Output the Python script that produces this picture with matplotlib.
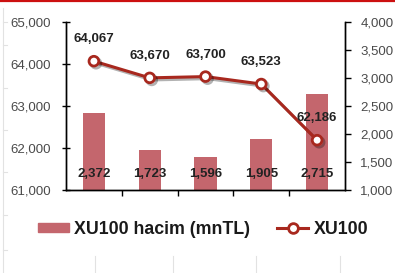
import matplotlib.pyplot as plt
import matplotlib.patheffects as pe
from matplotlib.lines import Line2D
from matplotlib.ticker import FixedLocator, FuncFormatter

plt.rcParams['font.family'] = ['Liberation Sans', 'DejaVu Sans']

dates = ['08-Jun', '09-Jun', '10-Jun', '13-Jun', '14-Jun']
xu100 = [64067, 63670, 63700, 63523, 62186]
volume = [2372, 1723, 1596, 1905, 2715]

left_ticks = [61000, 62000, 63000, 64000, 65000]
right_ticks = [1000, 1500, 2000, 2500, 3000, 3500, 4000]

bar_color = '#c4666d'
line_color = '#a8281e'
tick_color = '#4a4a4a'
label_color = '#222222'

W, H = 395, 273
fig = plt.figure(figsize=(W / 100, H / 100), dpi=100)

# spreadsheet leftovers around the chart
fig.add_artist(Line2D([0, 1], [1 - 0.8 / H, 1 - 0.8 / H], color='#cc1010', lw=1.6))
fig.add_artist(Line2D([3 / W, 3 / W], [0, 1 - 8 / H], color='#e2e2e2', lw=0.8))
for yy in [22, 45, 88, 130, 172, 215, 250]:
    fig.add_artist(Line2D([3 / W, 7 / W], [1 - yy / H, 1 - yy / H], color='#e2e2e2', lw=0.8))
for xx in [95, 173, 256, 340]:
    fig.add_artist(Line2D([xx / W, xx / W], [0, 1 - 256 / H], color='#e2e2e2', lw=0.8))

ax = fig.add_axes([66 / W, 1 - 190 / H, (345 - 66) / W, (190 - 22) / H])
ax2 = ax.twinx()

x = list(range(len(dates)))

# bars on the secondary (right) axis, drawn behind the line
ax2.bar(x, volume, width=0.4, color=bar_color, zorder=1)
ax2.set_ylim(1000, 4000)
for i, v in enumerate(volume):
    ax2.annotate(f'{v:,}', xy=(i, 1000), xytext=(0, 16), textcoords='offset pixels',
                 ha='center', va='center', fontsize=9.5, fontweight='bold', color=label_color)

ax.set_zorder(ax2.get_zorder() + 1)
ax.patch.set_visible(False)
ax.plot(x, xu100, color=line_color, lw=2.2, marker='o', ms=7, mfc='white', mec=line_color, mew=2,
        path_effects=[pe.SimpleLineShadow(offset=(1.5, -1.5), alpha=0.3), pe.Normal()])
for i, v in enumerate(xu100):
    ax.annotate(f'{v:,}', xy=(i, v), xytext=(0, 22), textcoords='offset pixels',
                ha='center', va='center', fontsize=9.5, fontweight='bold', color=label_color)

ax.set_ylim(61000, 65000)
ax.set_xlim(-0.5, len(dates) - 0.5)

ax.yaxis.set_major_locator(FixedLocator(left_ticks))
ax.yaxis.set_major_formatter(FuncFormatter(lambda v, p: f'{int(v):,}'))
ax2.yaxis.set_major_locator(FixedLocator(right_ticks))
ax2.yaxis.set_major_formatter(FuncFormatter(lambda v, p: f'{int(v):,}'))

ax.set_xticks(x)
ax.set_xticklabels(dates)
ax.set_xticks([i + 0.5 for i in x[:-1]], minor=True)
ax.tick_params(axis='x', which='major', length=0, pad=10, labelsize=9.5, labelcolor=tick_color)
ax.tick_params(axis='x', which='minor', length=4, width=1, direction='out', color='black')
ax.tick_params(axis='y', length=6, width=1, direction='inout', pad=8, labelsize=9.5, labelcolor=tick_color)
ax2.tick_params(axis='y', length=4, width=1, direction='out', pad=7, labelsize=9.5, labelcolor=tick_color)
ax2.set_xticks([])

for a in (ax, ax2):
    a.spines['top'].set_visible(False)
    for s in ('left', 'right', 'bottom'):
        a.spines[s].set_linewidth(1)
        a.spines[s].set_color('black')

bar_handle = plt.Rectangle((0, 0), 1, 1, color=bar_color)
line_handle = Line2D([], [], color=line_color, lw=2.2, marker='o', ms=7, mfc='white', mec=line_color, mew=2)
fig.legend([bar_handle, line_handle], ['XU100 hacim (mnTL)', 'XU100'],
           loc='center', bbox_to_anchor=(203 / W, 1 - 229 / H), ncol=2, frameon=False,
           prop={'size': 12.8, 'weight': 'bold'}, handlelength=1.75, handleheight=0.42,
           handletextpad=0.3, columnspacing=1.5, labelcolor='#1a1a1a')

fig.savefig('out.png', dpi=100, facecolor='white')
